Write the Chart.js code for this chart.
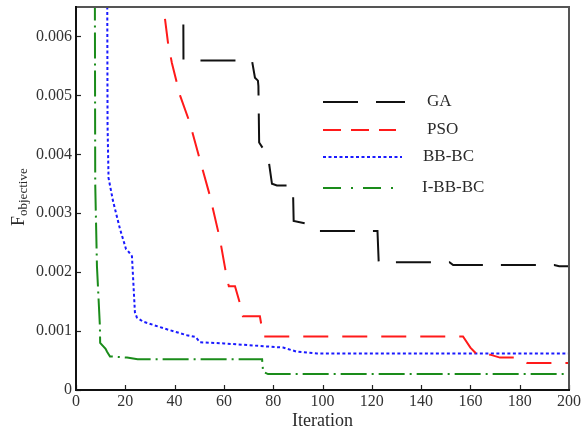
<!DOCTYPE html>
<html><head><meta charset="utf-8">
<script src="https://cdn.jsdelivr.net/npm/chart.js@4/dist/chart.umd.min.js"></script>
<style>html,body{margin:0;padding:0;background:#fff}#wrap{width:581px;height:432px;position:relative}</style>
</head><body><div id="wrap"><canvas id="c" width="581" height="432"></canvas></div>
<script>
const xTicks = [0, 20, 40, 60, 80, 100, 120, 140, 160, 180, 200];
const yTicks = [0, 0.001, 0.002, 0.003, 0.004, 0.005, 0.006];
const seriesNames = ['GA', 'PSO', 'BB-BC', 'I-BB-BC'];

const gaIter = [43.4, 43.6, 71.4, 72.6, 73.8, 74.0, 74.3, 77.9, 79.5, 81.5, 88.0, 88.3, 93.7, 97.0, 122.3, 122.8, 151.5, 153.0, 194.0, 196.0, 200];
const gaVal  = [0.0080, 0.00559, 0.00559, 0.00530, 0.00525, 0.00516, 0.00420, 0.00397, 0.00350, 0.00347, 0.00347, 0.00287, 0.00282, 0.00270, 0.00270, 0.00217, 0.00217, 0.00212, 0.00212, 0.00210, 0.00210];

const psoIter = [36.1, 37.3, 38.9, 42.2, 46.2, 50.3, 54.3, 58.4, 61.2, 62.0, 64.5, 67.2, 67.7, 74.6, 76.0, 157.0, 160.0, 162.7, 168.0, 172.0, 179.0, 183.0, 200];
const psoVal  = [0.0063, 0.0059, 0.00555, 0.0050, 0.00453, 0.0039, 0.0033, 0.00256, 0.0019, 0.00176, 0.00176, 0.00137, 0.00125, 0.00125, 0.00091, 0.00091, 0.00072, 0.00060, 0.00060, 0.00055, 0.00055, 0.00046, 0.00046];

const bbIter = [12.6, 12.8, 13.2, 15.0, 17.8, 20.3, 21.1, 22.7, 23.9, 24.7, 27.2, 36.9, 45.0, 48.5, 50.3, 60.0, 84.0, 89.6, 97.8, 200];
const bbVal  = [0.0080, 0.0045, 0.0036, 0.00321, 0.00274, 0.00239, 0.00236, 0.00227, 0.00132, 0.00123, 0.00116, 0.00103, 0.00093, 0.00090, 0.00081, 0.00079, 0.00072, 0.00065, 0.00062, 0.00062];

const ibbIter = [7.6, 7.8, 8.5, 9.7, 9.8, 12.0, 12.6, 13.8, 20.7, 25.0, 75.5, 75.9, 77.9, 200];
const ibbVal  = [0.0080, 0.0035, 0.0021, 0.00108, 0.00080, 0.00070, 0.00065, 0.00057, 0.00055, 0.00052, 0.00052, 0.00031, 0.00027, 0.00027];

const colors = ['#111111', '#ff1a1a', '#1a1aff', '#1a8c1a'];
const dashes = [[35, 18], [25, 14], [3, 2.5], [26, 5, 2, 5]];
const legendDashes = [[35, 18], [18, 10], [3, 2.5], [18, 10, 2, 10]];

function pts(xs, ys) { return xs.map((x, i) => ({ x: x, y: ys[i] })); }
const allData = [pts(gaIter, gaVal), pts(psoIter, psoVal), pts(bbIter, bbVal), pts(ibbIter, ibbVal)];

const FONT = '"Liberation Serif", "Times New Roman", serif';

const framePlugin = {
  id: 'frame',
  afterDatasetsDraw(chart) {
    const ctx = chart.ctx, a = chart.chartArea;
    const xs = chart.scales.x, ys = chart.scales.y;
    ctx.save();
    ctx.strokeStyle = '#222'; ctx.lineWidth = 1.2; ctx.setLineDash([]);
    xTicks.forEach(v => {
      const p = Math.round(xs.getPixelForValue(v)) + 0.5;
      ctx.beginPath(); ctx.moveTo(p, a.bottom); ctx.lineTo(p, a.bottom - 5); ctx.stroke();
    });
    yTicks.forEach(v => {
      const p = Math.round(ys.getPixelForValue(v)) + 0.5;
      ctx.beginPath(); ctx.moveTo(a.left, p); ctx.lineTo(a.left + 5, p); ctx.stroke();
    });
    ctx.strokeStyle = '#555'; ctx.lineWidth = 2;
    ctx.beginPath(); ctx.moveTo(a.left, a.top); ctx.lineTo(a.right, a.top); ctx.lineTo(a.right, a.bottom); ctx.stroke();
    ctx.strokeStyle = '#111'; ctx.lineWidth = 2;
    ctx.beginPath(); ctx.moveTo(a.left, a.top - 1); ctx.lineTo(a.left, a.bottom); ctx.lineTo(a.right + 1, a.bottom); ctx.stroke();

    const rows = [102, 130, 157, 188];
    const textX = [427, 427, 423, 422];
    const lineEnd = [405, 396, 402, 403];
    chart.data.datasets.forEach((ds, i) => {
      ctx.strokeStyle = ds.borderColor; ctx.lineWidth = 2.2;
      ctx.setLineDash(legendDashes[i]);
      ctx.beginPath(); ctx.moveTo(323, rows[i]); ctx.lineTo(lineEnd[i], rows[i]); ctx.stroke();
      ctx.setLineDash([]);
      ctx.fillStyle = '#2a2a2a'; ctx.font = '17px ' + FONT; ctx.textBaseline = 'middle'; ctx.textAlign = 'left';
      ctx.fillText(ds.label, textX[i], rows[i]);
    });

    ctx.translate(24, 226);
    ctx.rotate(-Math.PI / 2);
    ctx.fillStyle = '#2a2a2a'; ctx.textBaseline = 'alphabetic'; ctx.textAlign = 'left';
    ctx.font = '18px ' + FONT;
    ctx.fillText('F', 0, 0);
    const w = ctx.measureText('F').width;
    ctx.font = '13px ' + FONT;
    ctx.fillText('objective', w, 3);
    ctx.restore();
  }
};

new Chart(document.getElementById('c'), {
  type: 'line',
  data: {
    datasets: allData.map((d, i) => ({
      label: seriesNames[i],
      data: d,
      borderColor: colors[i],
      backgroundColor: colors[i],
      borderWidth: 2,
      borderDash: dashes[i],
      pointRadius: 0,
      tension: 0,
      fill: false
    }))
  },
  options: {
    responsive: false,
    animation: false,
    devicePixelRatio: 1,
    layout: { padding: { left: 0, right: 12, top: 7, bottom: 0 } },
    plugins: { legend: { display: false }, tooltip: { enabled: false } },
    scales: {
      x: {
        type: 'linear', min: 0, max: 200,
        afterBuildTicks: s => { s.ticks = xTicks.map(v => ({ value: v })); },
        afterFit: s => { s.height = 42; s.paddingLeft = 0; s.paddingRight = 0; },
        grid: { display: false, drawTicks: false },
        border: { display: false },
        ticks: { color: '#333', font: { family: FONT, size: 16 }, padding: 2, maxRotation: 0, autoSkip: false },
        title: { display: true, text: 'Iteration', color: '#2a2a2a', font: { family: FONT, size: 18 }, padding: { top: 0, bottom: 0 } }
      },
      y: {
        type: 'linear', min: 0, max: 0.0065,
        afterBuildTicks: s => { s.ticks = yTicks.map(v => ({ value: v })); },
        afterFit: s => { s.width = 76; s.paddingTop = 0; s.paddingBottom = 0; },
        grid: { display: false, drawTicks: false },
        border: { display: false },
        ticks: { color: '#333', font: { family: FONT, size: 16 }, padding: 4, autoSkip: false,
          callback: v => v === 0 ? '0' : v.toFixed(3) }
      }
    }
  },
  plugins: [framePlugin]
});
</script>
</body></html>
